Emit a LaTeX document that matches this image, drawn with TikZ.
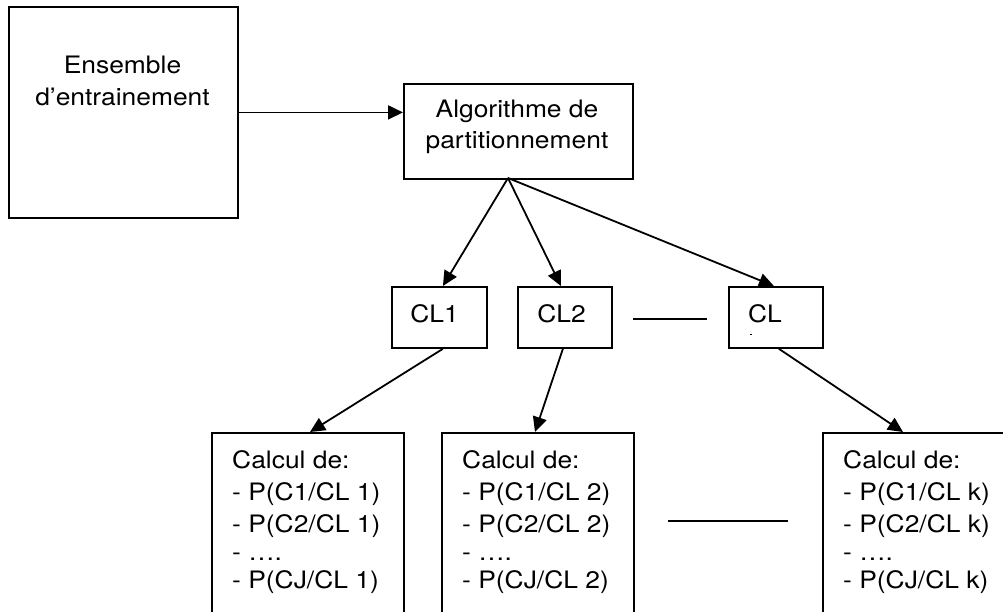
\documentclass[tikz,border=0pt]{standalone}
\usepackage{fontspec}
\setmainfont[FakeStretch=1.1]{TeX Gyre Heros}
\usetikzlibrary{arrows.meta,calc}

\tikzset{
  box/.style={draw, line width=1.8pt, rectangle, inner sep=0pt, anchor=north west},
  lbl/.style={inner sep=0pt, font=\fontsize{24}{32}\selectfont},
  arr/.style={line width=1.8pt, -{Triangle[length=15pt,width=14pt]}},
  plain/.style={line width=1.8pt}
}

\begin{document}
\begin{tikzpicture}[x=1pt,y=-1pt]
\useasboundingbox (0,0) rectangle (1003,611);
\clip (0,0) rectangle (1003,611);

% top row
\node[box, minimum width=229pt, minimum height=211pt] (es) at (8,6) {};
\node[lbl, align=center, anchor=north] (est) at (122.5,56) {Ensemble\\d’entrainement};

\node[box, minimum width=229pt, minimum height=95pt] (al) at (403,83) {};
\node[lbl, align=center, anchor=north, font=\fontsize{24}{31}\selectfont] (alt) at (517,100) {Algorithme de\\partitionnement};

% clusters
\node[box, minimum width=95pt, minimum height=61pt] (c1) at (391,286) {};
\node[box, minimum width=94pt, minimum height=61pt] (c2) at (517,286) {};
\node[box, minimum width=94pt, minimum height=61pt] (ck) at (728,286) {};
\node[lbl, anchor=base] (c1t) at (434.5,322) {CL1};
\node[lbl, anchor=base] (c2t) at (561.5,322) {CL2};
\node[lbl, anchor=base] (ckt) at (765,322) {CL};
\fill (750,333.5) rectangle (752,334.8);

% per-cluster probability boxes (cut by the page bottom)
\node[box, minimum width=192pt, minimum height=200pt] (p1) at (211,432) {};
\node[box, minimum width=192pt, minimum height=200pt] (p2) at (441,432) {};
\node[box, minimum width=192pt, minimum height=200pt] (p3) at (822,432) {};
\node[lbl, align=left, anchor=north west] (p1t) at (232,450)
  {Calcul de:\\- P(C1/CL 1)\\- P(C2/CL 1)\\[-4pt]- ….\\[-4pt]- P(CJ/CL 1)};
\node[lbl, align=left, anchor=north west] (p2t) at (462,450)
  {Calcul de:\\- P(C1/CL 2)\\- P(C2/CL 2)\\[-4pt]- ….\\[-4pt]- P(CJ/CL 2)};
\node[lbl, align=left, anchor=north west] (p3t) at (843,450)
  {Calcul de:\\- P(C1/CL k)\\- P(C2/CL k)\\[-4pt]- ….\\[-4pt]- P(CJ/CL k)};

% connectors
\draw[arr] (es.east) -- (es.east -| al.west);
\coordinate (fan) at (508,178);
\draw[arr] (fan) -- ([xshift=3.5pt]c1.north);
\draw[arr] (fan) -- ([xshift=-4pt]c2.north);
\draw[arr] (fan) -- ([xshift=-2pt]ck.north);

\draw[arr] ([xshift=3.5pt]c1.south) -- ([xshift=99pt]p1.north west);
\draw[arr] ([xshift=-2pt]c2.south) -- ([xshift=94pt]p2.north west);
\draw[arr] ([xshift=3pt]ck.south) -- ([xshift=81pt]p3.north west);

% ellipsis lines
\draw[plain] ([xshift=20pt,yshift=-1.5pt]c2.east) -- ([xshift=-21pt,yshift=-1.5pt]ck.west);
\coordinate (d1) at (668,521);
\coordinate (d2) at (788,521);
\draw[plain] (d1) -- (d2);
\end{tikzpicture}
\end{document}
